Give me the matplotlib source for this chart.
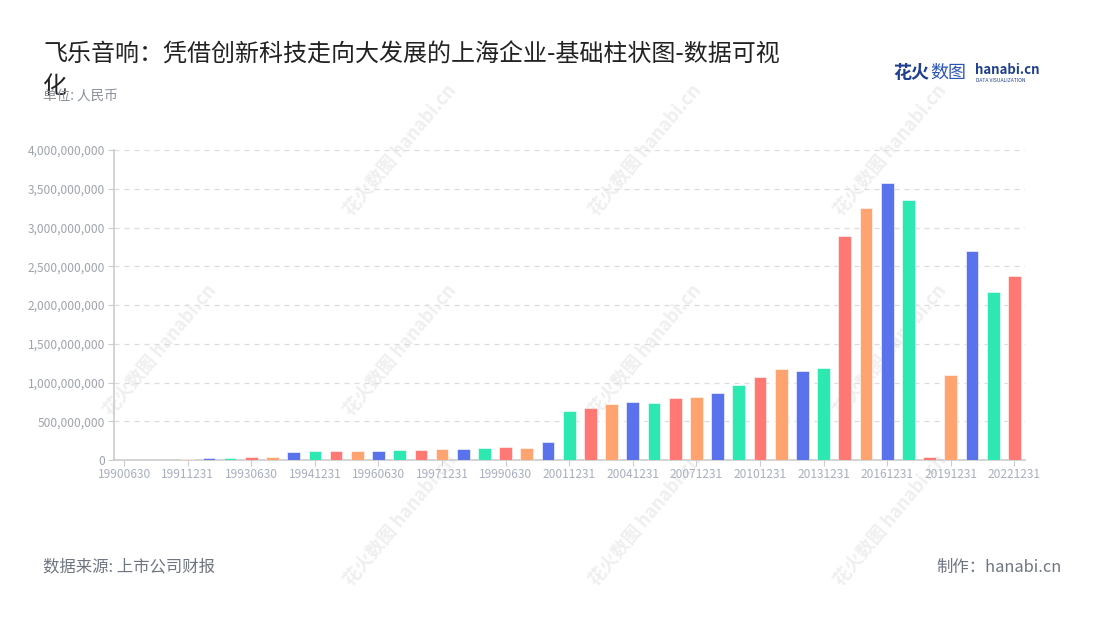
import matplotlib
matplotlib.use("Agg")
from matplotlib import pyplot as plt
from matplotlib.ticker import FuncFormatter, FixedLocator
import numpy as np

plt.rcParams["font.family"] = ["Noto Sans CJK SC", "DejaVu Sans"]

# Report dates (half-yearly to 1999, then yearly)
dates = [
    "19900630", "19901231", "19910630", "19911231", "19920630", "19921231",
    "19930630", "19931231", "19940630", "19941231", "19950630", "19951231",
    "19960630", "19961231", "19970630", "19971231", "19980630", "19981231",
    "19990630", "19991231", "20001231", "20011231", "20021231", "20031231",
    "20041231", "20051231", "20061231", "20071231", "20081231", "20091231",
    "20101231", "20111231", "20121231", "20131231", "20141231", "20151231",
    "20161231", "20171231", "20181231", "20191231", "20201231", "20211231",
    "20221231",
]

# Values in RMB
values = [
    3e6, 3e6, 4e6, 17e6, 22e6, 20e6,
    40e6, 40e6, 104e6, 113e6, 117e6, 122e6,
    122e6, 126e6, 135e6, 143e6, 148e6, 157e6,
    170e6, 161e6, 226e6, 635e6, 674e6, 722e6,
    748e6, 740e6, 800e6, 818e6, 861e6, 970e6,
    1070e6, 1170e6, 1153e6, 1192e6, 2890e6, 3254e6,
    3577e6, 3358e6, 40e6, 1100e6, 2694e6, 2163e6,
    2378e6,
]

palette = ["#5a72eb", "#2ee8b1", "#ff7873", "#ffa370"]

dpi = 100
fig = plt.figure(figsize=(11, 6.2), dpi=dpi)
ax = fig.add_axes([113.5 / 1100, 1 - 460 / 620, (1025 - 113.5) / 1100, 310 / 620])
ax.patch.set_alpha(0)
ax.set_zorder(2)

x = np.arange(len(dates))
colors = [palette[i % len(palette)] for i in range(len(dates))]
ax.bar(x, values, width=0.6, color=colors, edgecolor="white", linewidth=0.4, zorder=3)

ax.set_xlim(-0.5, len(dates) - 0.5)
ax.set_ylim(0, 4e9)
ax.yaxis.set_major_locator(FixedLocator(np.arange(0, 4.01e9, 5e8)))
ax.yaxis.set_major_formatter(FuncFormatter(lambda v, p: f"{int(v):,}"))
ax.set_xticks(x[::3])
ax.set_xticklabels(dates[::3])

ax.grid(axis="y", color="#dcdcdc", linestyle=(0, (4, 4)), linewidth=0.9, zorder=0)
for side in ["top", "right"]:
    ax.spines[side].set_visible(False)
for side in ["left", "bottom"]:
    ax.spines[side].set_color("#cccccc")
    ax.spines[side].set_linewidth(1.2)
ax.tick_params(axis="y", colors="#cccccc", labelcolor="#9ea3ad", labelsize=8.6, length=4, pad=2)
ax.tick_params(axis="x", colors="#cccccc", labelcolor="#a8aec0", labelsize=8.6, length=4, pad=2)

# watermarks (behind the axes)
wm_pos = [(400, 150), (645, 150), (890, 150), (160, 350), (400, 350),
          (645, 350), (890, 350), (400, 520), (645, 520), (890, 520)]
for wx, wy in wm_pos:
    fig.text(wx / 1100, 1 - wy / 620, "花火数图 hanabi.cn", rotation=50,
             fontsize=13, color="#efefef", ha="center", va="center",
             fontweight="bold", zorder=1)

# title and notes
fig.text(43 / 1100, 1 - 55 / 620,
         "飞乐音响：凭借创新科技走向大发展的上海企业-基础柱状图-数据可视",
         fontsize=17.3, color="#222222", ha="left", va="center")
fig.text(43 / 1100, 1 - 86 / 620, "化",
         fontsize=17.3, color="#222222", ha="left", va="center")
fig.text(43 / 1100, 1 - 96 / 620, "单位: 人民币", fontsize=9.8, color="#8a8f99",
         ha="left", va="center")
fig.text(43 / 1100, 1 - 567 / 620, "数据来源: 上市公司财报", fontsize=11.8,
         color="#6f7580", ha="left", va="center")
fig.text(1062 / 1100, 1 - 567 / 620, "制作：hanabi.cn", fontsize=11.8,
         color="#6f7580", ha="right", va="center")

# logo
fig.text(893 / 1100, 1 - 73 / 620, "花火", fontsize=13, fontweight="bold",
         color="#1f3f8f", ha="left", va="center")
fig.text(930 / 1100, 1 - 73 / 620, "数图", fontsize=13,
         color="#2a55b8", ha="left", va="center")
fig.text(975 / 1100, 1 - 70 / 620, "hanabi.cn", fontsize=9.5, fontweight="bold",
         color="#1f3f8f", ha="left", va="center")
fig.text(976 / 1100, 1 - 80 / 620, "DATA VISUALIZATION", fontsize=3.6,
         color="#1f3f8f", ha="left", va="center")

fig.savefig("out.png", dpi=dpi)
